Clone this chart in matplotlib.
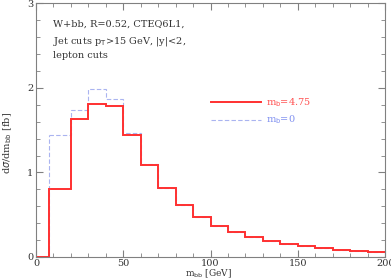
import numpy as np
import matplotlib
matplotlib.use("Agg")
import matplotlib.pyplot as plt
from matplotlib.ticker import MultipleLocator

# bin edges in m_bb [GeV]
edges = [7.5, 20, 30, 40, 50, 60, 70, 80, 90, 100, 110, 120, 130, 140, 150,
         160, 170, 180, 190, 200]
# m_b = 4.75
sig_mb475 = [0.80, 1.63, 1.81, 1.79, 1.44, 1.09, 0.81, 0.62, 0.47, 0.37,
             0.29, 0.235, 0.186, 0.15, 0.127, 0.103, 0.087, 0.071, 0.063]
# m_b = 0
sig_mb0 = [1.44, 1.74, 1.99, 1.87, 1.47, 1.10, 0.81, 0.61, 0.47, 0.37,
           0.29, 0.235, 0.186, 0.15, 0.127, 0.103, 0.087, 0.071, 0.063]

plt.rcParams['font.family'] = 'DejaVu Serif'
grey = '#808080'
red = '#ff3030'
blue = '#aab4f0'

fig = plt.figure(figsize=(3.91, 2.79), dpi=100)
ax = fig.add_axes([0.092, 0.079, 0.893, 0.909])

ax.stairs(sig_mb0, edges, color=blue, lw=0.8, ls=(0, (4, 2)), baseline=None)
ax.stairs(sig_mb475, edges, color=red, lw=1.4, baseline=None)
# rise from zero at the first edge
ax.plot([0, edges[0], edges[0]], [0, 0, sig_mb0[0]], color=blue, lw=0.8, ls=(0, (4, 2)))
ax.plot([0, edges[0], edges[0]], [0, 0, sig_mb475[0]], color=red, lw=1.4)

ax.set_xlim(0, 200)
ax.set_ylim(0, 3)
ax.xaxis.set_major_locator(MultipleLocator(50))
ax.xaxis.set_minor_locator(MultipleLocator(10))
ax.yaxis.set_major_locator(MultipleLocator(1))
ax.yaxis.set_minor_locator(MultipleLocator(0.2))
ax.tick_params(which='both', direction='in', top=True, right=True,
               colors=grey, labelcolor='#333333', labelsize=7, pad=2)
ax.tick_params(axis='x', pad=1.5)
ax.tick_params(which='major', length=5, width=0.8)
ax.tick_params(which='minor', length=3, width=0.6)
for s in ax.spines.values():
    s.set_color(grey)
    s.set_linewidth(0.8)

ax.set_xlabel(r'm$_{\rm bb}$ [GeV]', fontsize=6.5, color='#333333')
ax.xaxis.set_label_coords(0.493, -0.068)
ax.xaxis.label.set_va('center')
ax.set_ylabel(r'd$\sigma$/dm$_{\rm bb}$ [fb]', fontsize=7, color='#333333')
ax.yaxis.set_label_coords(-0.08, 0.45)
ax.yaxis.label.set_va('center')

ax.text(10, 2.72, 'W+bb, R=0.52, CTEQ6L1,', fontsize=7, color='#333333')
ax.text(10, 2.52, r'Jet cuts p$_{\rm T}$>15 GeV, |y|<2,', fontsize=7, color='#333333')
ax.text(10, 2.35, 'lepton cuts', fontsize=7, color='#333333')

ax.plot([100, 129], [1.83, 1.83], color=red, lw=1.4)
ax.text(132, 1.83, r'm$_{\rm b}$=4.75', fontsize=7, color='#ff5050', va='center')
ax.plot([100, 129], [1.62, 1.62], color=blue, lw=0.8, ls=(0, (4, 2)))
ax.text(132, 1.62, r'm$_{\rm b}$=0', fontsize=7, color='#8090f0', va='center')

fig.savefig('out.png', dpi=100)
